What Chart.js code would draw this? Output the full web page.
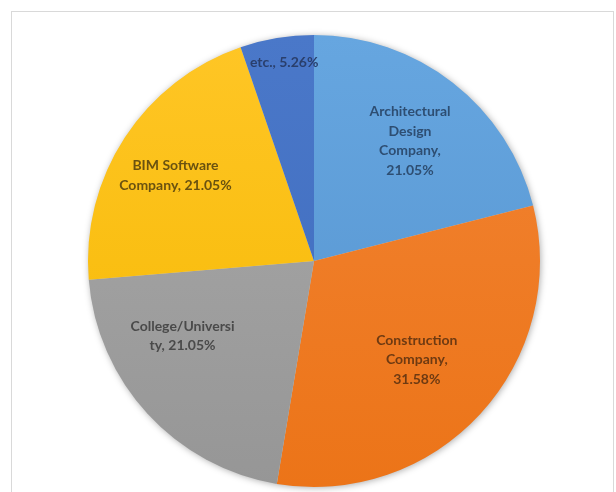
<!DOCTYPE html>
<html>
<head>
<meta charset="utf-8">
<script src="https://cdn.jsdelivr.net/npm/chart.js@4/dist/chart.umd.min.js"></script>
<style>
  html, body { margin: 0; padding: 0; background: #ffffff; }
  #wrap { width: 616px; height: 492px; }
</style>
</head>
<body>
<div id="wrap"><canvas id="pie" width="616" height="492"></canvas></div>
<script>
// Respondent affiliation shares (counts out of 19)
const categories = ['Architectural Design Company', 'Construction Company', 'College/University', 'BIM Software Company', 'etc.'];
const counts = [4, 6, 4, 4, 1];
const percentLabels = ['21.05%', '31.58%', '21.05%', '21.05%', '5.26%'];

// Label line breaks as drawn on each slice
const labelLines = [
  ['Architectural', 'Design', 'Company,', '21.05%'],
  ['Construction', 'Company,', '31.58%'],
  ['College/Universi', 'ty, 21.05%'],
  ['BIM Software', 'Company, 21.05%'],
  ['etc., 5.26%']
];

// Placement of each label: fraction along the slice's sweep, fraction of radius
const labelPlace = [
  { along: 0.51, radial: 0.68 },
  { along: 0.51, radial: 0.63 },
  { along: 0.67, radial: 0.67 },
  { along: 0.48, radial: 0.72 },
  { along: 0.55, radial: 0.89 }
];

const sliceTop = ['#66A6E0', '#F28434', '#AAAAAA', '#FFC626', '#4A78C9'];
const sliceBottom = ['#5593CE', '#EC7418', '#969696', '#F5B800', '#3F6BBD'];
const textColors = ['#2E4E72', '#6E3A12', '#4A4A4A', '#6A5210', '#2A3F6C'];

function sliceFill(ctx) {
  const chart = ctx.chart;
  const area = chart.chartArea;
  if (!area) return sliceTop[ctx.dataIndex];
  const g = chart.ctx.createLinearGradient(0, area.top, 0, area.bottom);
  g.addColorStop(0, sliceTop[ctx.dataIndex]);
  g.addColorStop(1, sliceBottom[ctx.dataIndex]);
  return g;
}

// Light frame around the chart
const framePlugin = {
  id: 'frame',
  beforeDraw(chart) {
    const c = chart.ctx;
    c.save();
    c.fillStyle = '#ffffff';
    c.fillRect(0, 0, chart.width, chart.height);
    c.strokeStyle = '#D9D9D9';
    c.lineWidth = 1;
    c.strokeRect(11.5, 11.5, chart.width - 14, chart.height + 20);
    c.restore();
  }
};

// Soft shadow under the whole pie
const shadowPlugin = {
  id: 'pieShadow',
  beforeDatasetsDraw(chart) {
    const arc = chart.getDatasetMeta(0).data[0];
    if (!arc) return;
    const c = chart.ctx;
    c.save();
    c.shadowColor = 'rgba(0,0,0,0.35)';
    c.shadowBlur = 7;
    c.shadowOffsetX = 1;
    c.shadowOffsetY = 1;
    c.fillStyle = '#cccccc';
    c.beginPath();
    c.arc(arc.x, arc.y, arc.outerRadius - 0.5, 0, Math.PI * 2);
    c.fill();
    c.restore();
  }
};

// Category/percent labels inside the slices
const sliceLabelPlugin = {
  id: 'sliceLabels',
  afterDatasetsDraw(chart) {
    const c = chart.ctx;
    const meta = chart.getDatasetMeta(0);
    c.save();
    c.font = 'bold 14px Lato, "DejaVu Sans", sans-serif';
    c.textAlign = 'center';
    c.textBaseline = 'middle';
    const lineH = 19.5;
    meta.data.forEach((arc, i) => {
      const p = arc.getProps(['x', 'y', 'startAngle', 'endAngle', 'outerRadius'], true);
      const place = labelPlace[i];
      const a = p.startAngle + (p.endAngle - p.startAngle) * place.along;
      const r = p.outerRadius * place.radial;
      const cx = p.x + Math.cos(a) * r;
      const cy = p.y + Math.sin(a) * r;
      const lines = labelLines[i];
      const y0 = cy - (lines.length - 1) * lineH / 2;
      c.fillStyle = textColors[i];
      lines.forEach((t, k) => c.fillText(t, cx, y0 + k * lineH));
    });
    c.restore();
  }
};

new Chart(document.getElementById('pie'), {
  type: 'pie',
  data: {
    labels: categories.map((n, i) => n + ', ' + percentLabels[i]),
    datasets: [{
      data: counts,
      backgroundColor: sliceFill,
      borderWidth: 0,
      hoverOffset: 0
    }]
  },
  options: {
    responsive: false,
    animation: false,
    rotation: 0,
    layout: { padding: { left: 88, top: 35, right: 76, bottom: 5 } },
    plugins: {
      legend: { display: false },
      tooltip: { enabled: false },
      title: { display: false }
    }
  },
  plugins: [framePlugin, shadowPlugin, sliceLabelPlugin]
});
</script>
</body>
</html>
